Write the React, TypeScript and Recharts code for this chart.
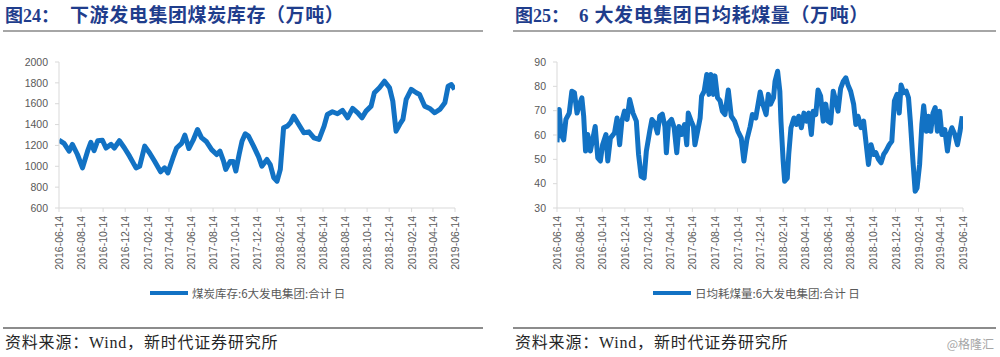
import React from "react";
import { Line, LineChart, XAxis, YAxis } from "recharts";

// 煤炭库存:6大发电集团:合计 (万吨)
const STOCK: [string, number][] = [
  ["2016-06-14", 1250], ["2016-06-28", 1220], ["2016-07-12", 1145], ["2016-07-21", 1210],
  ["2016-08-04", 1113], ["2016-08-18", 985], ["2016-09-01", 1145], ["2016-09-10", 1230],
  ["2016-09-19", 1150], ["2016-09-29", 1245], ["2016-10-12", 1250], ["2016-10-22", 1175],
  ["2016-11-05", 1210], ["2016-11-14", 1175], ["2016-11-28", 1245], ["2016-12-12", 1175],
  ["2016-12-26", 1097], ["2017-01-13", 985], ["2017-01-23", 1000], ["2017-02-06", 1193],
  ["2017-02-19", 1130], ["2017-03-05", 1050], ["2017-03-22", 947], ["2017-04-02", 985],
  ["2017-04-11", 937], ["2017-04-25", 1080], ["2017-05-05", 1175], ["2017-05-19", 1220],
  ["2017-05-28", 1299], ["2017-06-08", 1170], ["2017-06-20", 1250], ["2017-07-02", 1353],
  ["2017-07-13", 1275], ["2017-07-27", 1235], ["2017-08-10", 1160], ["2017-08-24", 1113],
  ["2017-09-02", 1145], ["2017-09-12", 1050], ["2017-09-18", 970], ["2017-09-30", 1045],
  ["2017-10-09", 1045], ["2017-10-16", 955], ["2017-10-25", 1113], ["2017-11-02", 1240],
  ["2017-11-11", 1312], ["2017-11-20", 1290], ["2017-12-04", 1193], ["2017-12-18", 1090],
  ["2017-12-27", 1001], ["2018-01-10", 1065], ["2018-01-19", 1017], ["2018-01-29", 889],
  ["2018-02-07", 857], ["2018-02-16", 970], ["2018-02-25", 1369], ["2018-03-07", 1385],
  ["2018-03-16", 1417], ["2018-03-25", 1481], ["2018-04-08", 1401], ["2018-04-22", 1321],
  ["2018-05-06", 1330], ["2018-05-20", 1273], ["2018-06-03", 1257], ["2018-06-17", 1385],
  ["2018-06-26", 1497], ["2018-07-10", 1523], ["2018-07-24", 1504], ["2018-08-07", 1536],
  ["2018-08-21", 1465], ["2018-09-04", 1555], ["2018-09-18", 1513], ["2018-09-30", 1465],
  ["2018-10-11", 1529], ["2018-10-25", 1577], ["2018-11-03", 1705], ["2018-11-17", 1753],
  ["2018-12-01", 1816], ["2018-12-15", 1753], ["2018-12-24", 1625], ["2019-01-02", 1337],
  ["2019-01-12", 1401], ["2019-01-21", 1449], ["2019-01-30", 1641], ["2019-02-13", 1737],
  ["2019-02-27", 1705], ["2019-03-08", 1689], ["2019-03-22", 1577], ["2019-04-05", 1555],
  ["2019-04-19", 1513], ["2019-05-03", 1545], ["2019-05-17", 1609], ["2019-05-26", 1768],
  ["2019-06-04", 1784], ["2019-06-13", 1737],
];

// 日均耗煤量:6大发电集团:合计 (万吨)
const BURN: [string, number][] = [
  ["2016-06-14", 57], ["2016-06-20", 70.5], ["2016-06-25", 60.2], ["2016-07-02", 58],
  ["2016-07-08", 66.4], ["2016-07-17", 69], ["2016-07-24", 78], ["2016-07-31", 77.4],
  ["2016-08-07", 69], ["2016-08-14", 72.7], ["2016-08-20", 75.3], ["2016-08-25", 67.7],
  ["2016-08-30", 53.4], ["2016-09-05", 60.2], ["2016-09-12", 53.4], ["2016-09-18", 58],
  ["2016-09-25", 63.5], ["2016-10-02", 50.6], ["2016-10-09", 49.3], ["2016-10-15", 56],
  ["2016-10-24", 60.2], ["2016-10-29", 49.3], ["2016-11-05", 58.7], ["2016-11-16", 60.8],
  ["2016-11-23", 67], ["2016-11-30", 56], ["2016-12-06", 65.7], ["2016-12-13", 69.8],
  ["2016-12-20", 66.4], ["2016-12-27", 74.6], ["2017-01-05", 69], ["2017-01-14", 65.7],
  ["2017-01-20", 52], ["2017-01-27", 43], ["2017-02-04", 42.3], ["2017-02-10", 53.4],
  ["2017-02-19", 61.5], ["2017-02-25", 66.4], ["2017-03-04", 65], ["2017-03-12", 60.8],
  ["2017-03-18", 67.7], ["2017-03-25", 68.6], ["2017-04-01", 63.5], ["2017-04-05", 52.7],
  ["2017-04-11", 65], ["2017-04-19", 66.4], ["2017-04-26", 63], ["2017-05-03", 52.7],
  ["2017-05-09", 63.5], ["2017-05-16", 60.2], ["2017-05-24", 64.3], ["2017-05-30", 56],
  ["2017-06-03", 69], ["2017-06-11", 65.7], ["2017-06-17", 63.5], ["2017-06-21", 56],
  ["2017-06-29", 62.2], ["2017-07-05", 67], ["2017-07-09", 76], ["2017-07-16", 78],
  ["2017-07-23", 84.9], ["2017-07-29", 76.7], ["2017-08-03", 84.9], ["2017-08-10", 76.7],
  ["2017-08-14", 84.3], ["2017-08-21", 75.3], ["2017-08-28", 74], ["2017-09-03", 69.8],
  ["2017-09-10", 68.4], ["2017-09-19", 78.5], ["2017-09-27", 67.7], ["2017-10-06", 65.7],
  ["2017-10-15", 61.5], ["2017-10-24", 58.7], ["2017-10-31", 49.3], ["2017-11-08", 58],
  ["2017-11-17", 63.5], ["2017-11-23", 68.4], ["2017-12-02", 67], ["2017-12-14", 77.7],
  ["2017-12-21", 72.7], ["2017-12-30", 68.4], ["2018-01-05", 76.7], ["2018-01-11", 72.7],
  ["2018-01-19", 75.3], ["2018-01-23", 82], ["2018-01-30", 86.2], ["2018-02-05", 78],
  ["2018-02-08", 65.7], ["2018-02-14", 49.3], ["2018-02-18", 41], ["2018-02-25", 42.3],
  ["2018-03-01", 52], ["2018-03-07", 63], ["2018-03-15", 67], ["2018-03-22", 64.3],
  ["2018-03-28", 67.7], ["2018-04-04", 63], ["2018-04-11", 69], ["2018-04-18", 65.7],
  ["2018-04-24", 69], ["2018-05-01", 60.2], ["2018-05-06", 69.8], ["2018-05-13", 68.4],
  ["2018-05-19", 78.5], ["2018-05-26", 76], ["2018-06-02", 65.7], ["2018-06-09", 72.7],
  ["2018-06-15", 65.7], ["2018-06-22", 65], ["2018-06-29", 78], ["2018-07-06", 74],
  ["2018-07-12", 69.8], ["2018-07-19", 79.2], ["2018-07-26", 82], ["2018-08-02", 83.5],
  ["2018-08-08", 80.5], ["2018-08-15", 78], ["2018-08-23", 72.7], ["2018-08-29", 64.3],
  ["2018-09-04", 67.7], ["2018-09-12", 63], ["2018-09-19", 65.7], ["2018-09-25", 57.4],
  ["2018-10-02", 47.9], ["2018-10-09", 56], ["2018-10-16", 52], ["2018-10-22", 52.7],
  ["2018-10-29", 50], ["2018-11-05", 48.6], ["2018-11-12", 52], ["2018-11-18", 53.4],
  ["2018-11-27", 56], ["2018-12-04", 57.4], ["2018-12-11", 74], ["2018-12-18", 76.7],
  ["2018-12-24", 69], ["2018-12-29", 80.5], ["2019-01-05", 77.4], ["2019-01-12", 78],
  ["2019-01-18", 75.3], ["2019-01-23", 65.7], ["2019-01-30", 49.3], ["2019-02-05", 36.9],
  ["2019-02-10", 38.2], ["2019-02-17", 47.9], ["2019-02-23", 64.3], ["2019-02-28", 72],
  ["2019-03-07", 61.5], ["2019-03-13", 67.7], ["2019-03-19", 61.5], ["2019-03-25", 69],
  ["2019-03-31", 71.3], ["2019-04-06", 61.5], ["2019-04-12", 69.8], ["2019-04-18", 60.2],
  ["2019-04-26", 62.2], ["2019-05-03", 53.4], ["2019-05-09", 60.2], ["2019-05-15", 63],
  ["2019-05-23", 60.2], ["2019-05-30", 56], ["2019-06-06", 61.5], ["2019-06-12", 67.7],
];

const DATE_TICKS = [
  "2016-06-14", "2016-08-14", "2016-10-14", "2016-12-14", "2017-02-14", "2017-04-14",
  "2017-06-14", "2017-08-14", "2017-10-14", "2017-12-14", "2018-02-14", "2018-04-14",
  "2018-06-14", "2018-08-14", "2018-10-14", "2018-12-14", "2019-02-14", "2019-04-14",
  "2019-06-14",
];
const STOCK_TICKS = [600, 800, 1000, 1200, 1400, 1600, 1800, 2000];
const BURN_TICKS = [30, 40, 50, 60, 70, 80, 90];

const BLUE = "#1272c4";
const AXIS = "#d9d9d9";
const LABEL = "#595959";
const TICK_FONT = '"Liberation Sans", Arial, sans-serif';
const CJK = '"Noto Sans CJK SC", sans-serif';
const TITLE_FONT = '"Liberation Serif", "Noto Sans CJK SC", serif';

const toRows = (pairs: [string, number][]) => pairs.map(([d, v]) => ({ t: Date.parse(d), v }));
const tickTimes = DATE_TICKS.map((d) => Date.parse(d));
const domainX = [tickTimes[0], tickTimes[tickTimes.length - 1]];

function DateTick({ x, y, payload }: any) {
  const label = new Date(payload.value).toISOString().slice(0, 10);
  return (
    <text
      transform={`translate(${x},${y}) rotate(-90)`}
      textAnchor="end"
      dominantBaseline="central"
      fontSize={10.5}
      fontFamily={TICK_FONT}
      fill={LABEL}
    >
      {label}
    </text>
  );
}

type PanelProps = {
  left: number;
  width: number;
  yWidth: number;
  rightGap: number;
  rows: { t: number; v: number }[];
  yTicks: number[];
  title: string;
  subtitle: string;
  subtitleLeft: number;
  legend: string;
  legendLeft: number;
};

const titleStyle: React.CSSProperties = {
  position: "absolute",
  top: 4,
  fontFamily: TITLE_FONT,
  fontWeight: "bold",
  fontSize: 19,
  letterSpacing: 0.6,
  color: "#1f3d8c",
  lineHeight: "24px",
  whiteSpace: "nowrap",
};

function Panel(p: PanelProps) {
  return (
    <>
      <div style={{ ...titleStyle, left: p.left + 5, fontSize: 18, letterSpacing: 0 }}>{p.title}</div>
      <div style={{ ...titleStyle, left: p.subtitleLeft }}>{p.subtitle}</div>
      <div style={{ position: "absolute", left: p.left + 3, top: 30, width: p.width - 5, height: 2, background: "#a6a6a6" }} />
      <LineChart
        width={p.width}
        height={300}
        data={p.rows}
        margin={{ top: 62, right: p.rightGap, left: 0, bottom: 0 }}
        style={{ position: "absolute", left: p.left, top: 0 }}
      >
        <XAxis
          dataKey="t"
          type="number"
          domain={domainX}
          ticks={tickTimes}
          interval={0}
          height={92}
          tick={<DateTick />}
          tickSize={4}
          tickMargin={4}
          stroke={AXIS}
          allowDataOverflow
        />
        <YAxis
          domain={[p.yTicks[0], p.yTicks[p.yTicks.length - 1]]}
          ticks={p.yTicks}
          interval={0}
          width={p.yWidth}
          tickSize={4}
          tickMargin={7}
          stroke={AXIS}
          tick={{ fontSize: 10.5, fontFamily: TICK_FONT, fill: LABEL }}
        />
        <Line
          type="linear"
          dataKey="v"
          stroke={BLUE}
          strokeWidth={5}
          strokeLinejoin="round"
          dot={false}
          isAnimationActive={false}
        />
      </LineChart>
      <div
        style={{
          position: "absolute",
          left: p.legendLeft,
          top: 284,
          display: "flex",
          alignItems: "center",
          fontFamily: CJK,
          fontSize: 11.5,
          color: LABEL,
          whiteSpace: "nowrap",
          lineHeight: "18px",
        }}
      >
        <span style={{ display: "inline-block", width: 38, height: 4, background: BLUE, marginRight: 4 }} />
        {p.legend}
      </div>
      <div style={{ position: "absolute", left: p.left + 3, top: 327, width: p.width - 5, height: 2, background: "#8c8c8c" }} />
      <div
        style={{
          position: "absolute",
          left: p.left + 5,
          top: 333,
          fontFamily: TITLE_FONT,
          fontSize: 16,
          letterSpacing: 0.8,
          color: "#262626",
          lineHeight: "20px",
          whiteSpace: "nowrap",
        }}
      >
        资料来源：Wind，新时代证券研究所
      </div>
    </>
  );
}

export default function App() {
  return (
    <div style={{ position: "absolute", left: 0, top: 0, width: 1000, height: 357, background: "#fff", overflow: "hidden" }}>
      <Panel
        left={0}
        width={485}
        yWidth={59}
        rightGap={30}
        rows={toRows(STOCK)}
        yTicks={STOCK_TICKS}
        title="图24："
        subtitle="下游发电集团煤炭库存（万吨）"
        subtitleLeft={70}
        legend="煤炭库存:6大发电集团:合计 日"
        legendLeft={150}
      />
      <Panel
        left={510}
        width={488}
        yWidth={47}
        rightGap={35}
        rows={toRows(BURN)}
        yTicks={BURN_TICKS}
        title="图25："
        subtitle="6 大发电集团日均耗煤量（万吨）"
        subtitleLeft={579}
        legend="日均耗煤量:6大发电集团:合计 日"
        legendLeft={653}
      />
      <div
        style={{
          position: "absolute",
          right: 6,
          top: 336,
          fontFamily: CJK,
          fontSize: 12,
          color: "#a6a6a6",
          lineHeight: "16px",
        }}
      >
        @格隆汇
      </div>
    </div>
  );
}
